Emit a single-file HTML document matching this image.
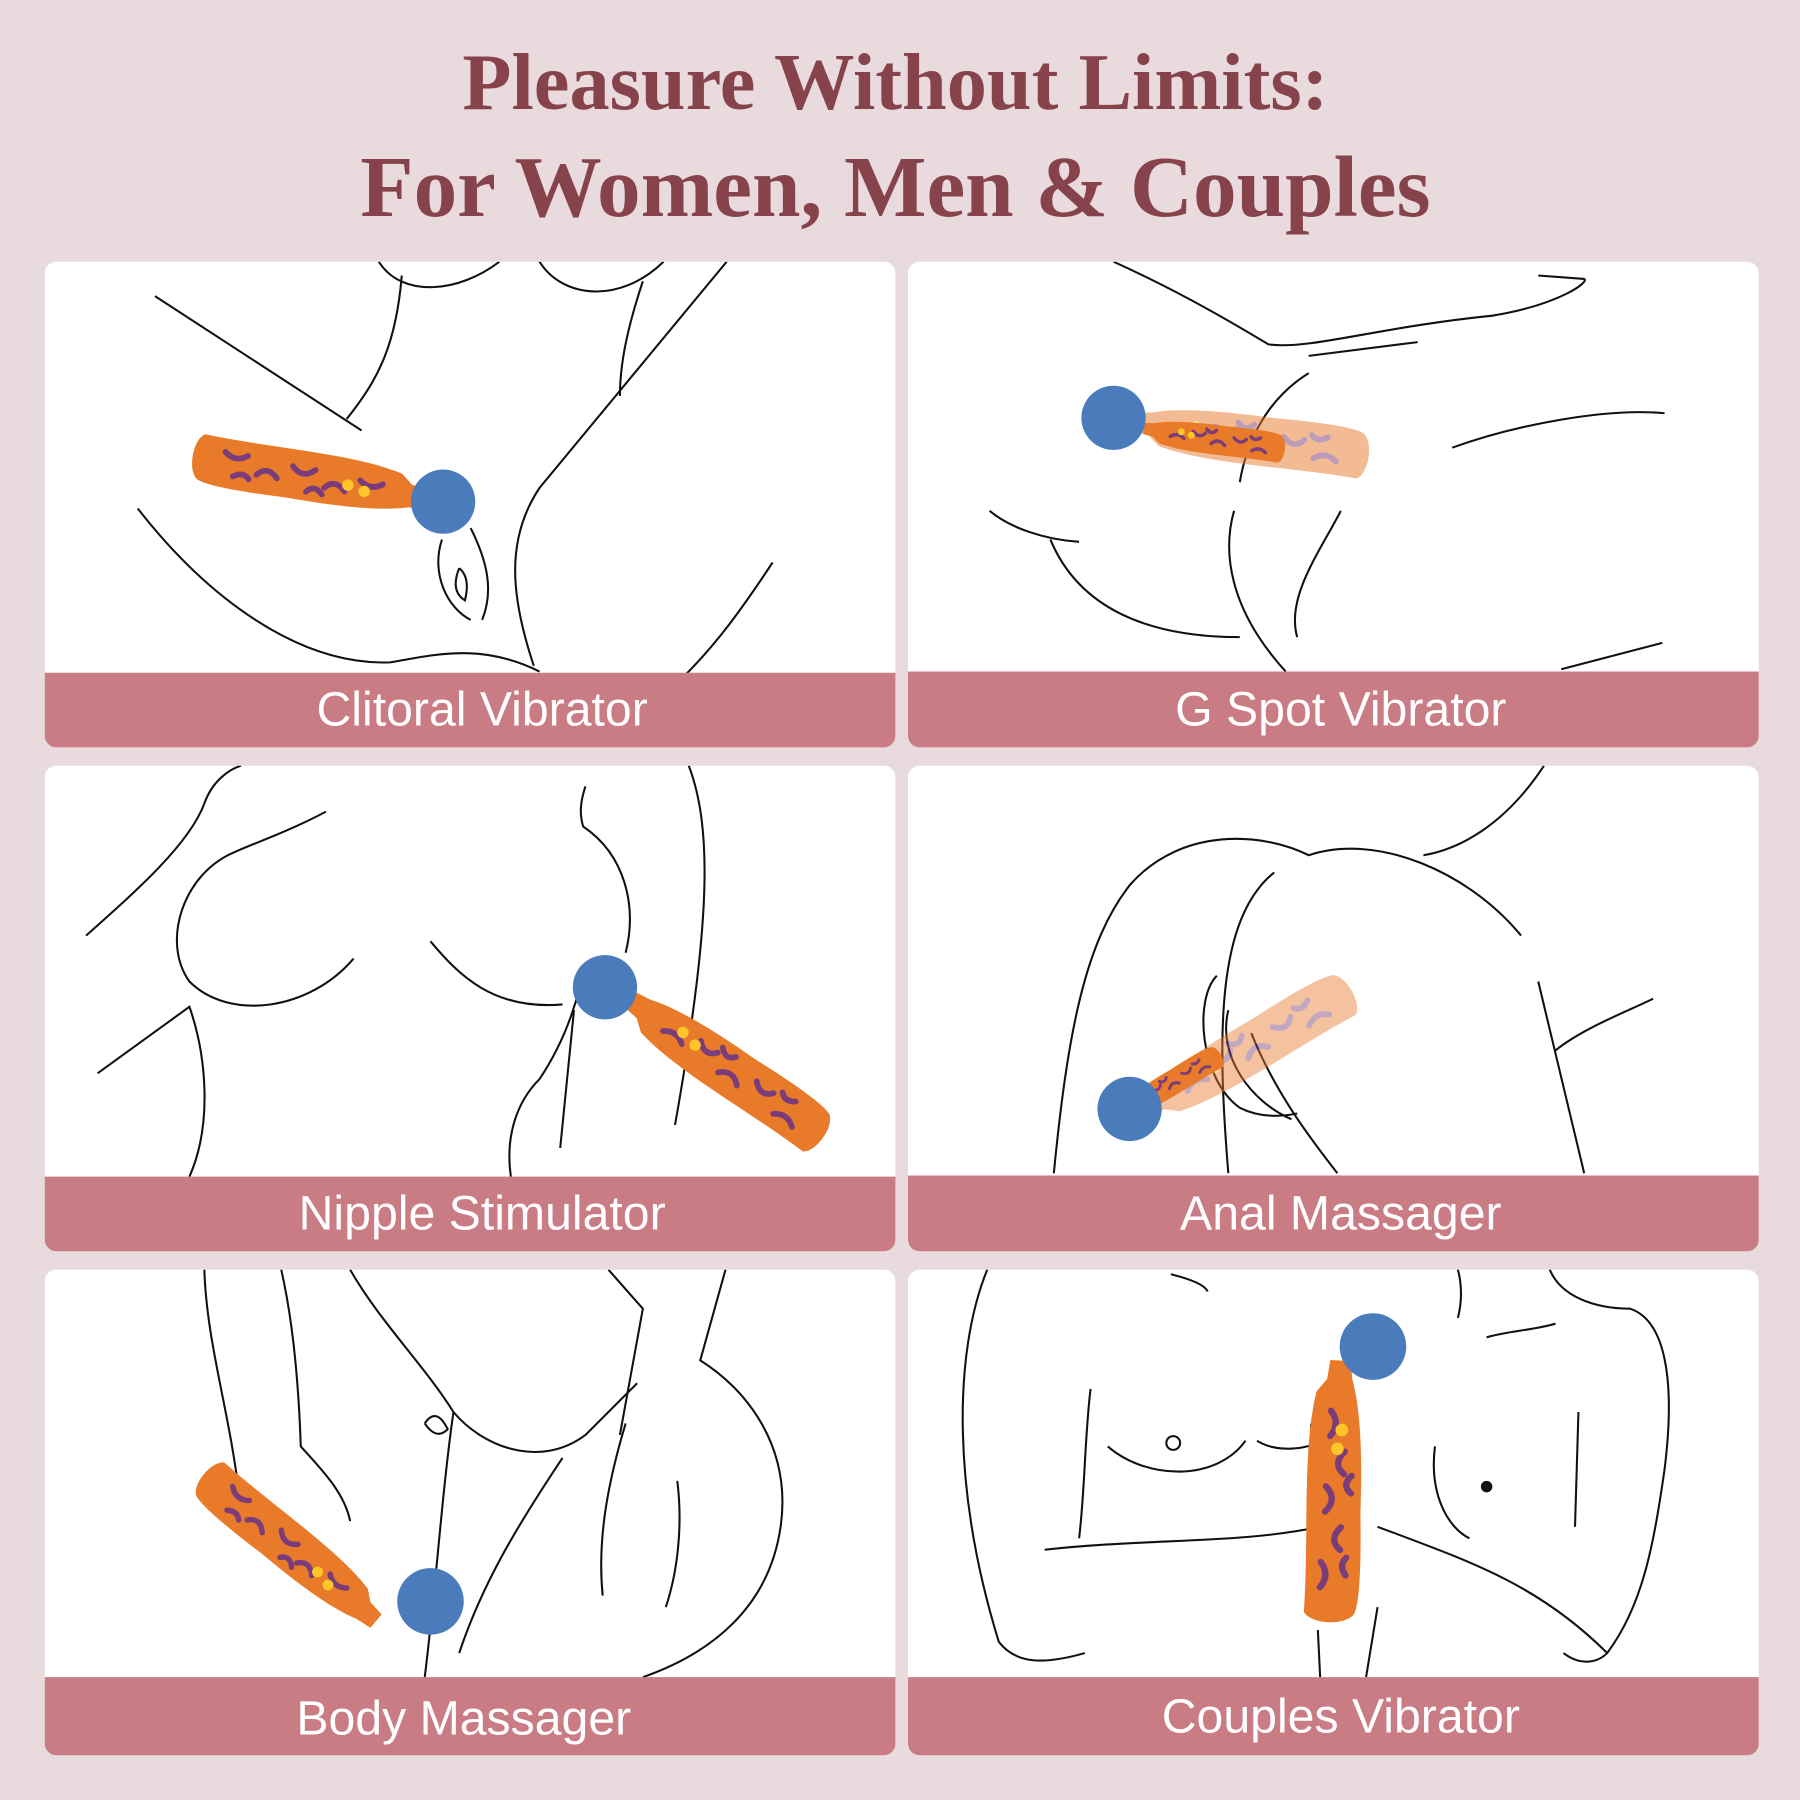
<!DOCTYPE html>
<html><head><meta charset="utf-8"><style>
html,body{margin:0;padding:0;background:#e9dadd;}
svg{display:block}
</style></head><body>
<svg width="1800" height="1800" viewBox="0 0 1568 1568" xmlns="http://www.w3.org/2000/svg">
<defs>
<clipPath id="c1"><rect x="39" y="228" width="741" height="423" rx="10"/></clipPath>
<clipPath id="c2"><rect x="791" y="228" width="741" height="423" rx="10"/></clipPath>
<clipPath id="c3"><rect x="39" y="667" width="741" height="423" rx="10"/></clipPath>
<clipPath id="c4"><rect x="791" y="667" width="741" height="423" rx="10"/></clipPath>
<clipPath id="c5"><rect x="39" y="1106" width="741" height="423" rx="10"/></clipPath>
<clipPath id="c6"><rect x="791" y="1106" width="741" height="423" rx="10"/></clipPath>
<g id="wand">
<path d="M0,-22 C60,-20 130,-28 175,-18 L185,-10 L200,-8 L200,8 L185,10 C160,18 120,20 80,20 C40,22 10,22 0,18 C-10,12 -10,-16 0,-22Z" fill="#e87a2a"/>
<path d="M20,-10 q10,8 20,0 M50,5 q8,-10 18,0 M80,-8 q10,10 20,0 M110,6 q8,-10 18,0 M140,-6 q10,8 20,0 M30,10 q8,-6 14,0 M95,12 q6,-8 14,0" stroke="#7a3d7a" stroke-width="5" fill="none" stroke-linecap="round"/>
<circle cx="130" cy="0" r="5" fill="#ffc629"/><circle cx="145" cy="3" r="5" fill="#ffc629"/>
</g>
</defs>
<rect width="1568" height="1568" fill="#e9dadd"/>
<g font-family="'Liberation Serif',serif" font-weight="bold" fill="#87434b" text-anchor="middle">
<text x="780" y="95" font-size="70">Pleasure Without Limits:</text>
<text x="780" y="188" font-size="76">For Women, Men &amp; Couples</text>
</g>
<g fill="#fff">
<rect x="39" y="228" width="741" height="423" rx="10"/>
<rect x="791" y="228" width="741" height="423" rx="10"/>
<rect x="39" y="667" width="741" height="423" rx="10"/>
<rect x="791" y="667" width="741" height="423" rx="10"/>
<rect x="39" y="1106" width="741" height="423" rx="10"/>
<rect x="791" y="1106" width="741" height="423" rx="10"/>
</g>
<g fill="none" stroke="#111" stroke-width="1.8">
<g clip-path="url(#c1)">
<path d="M135,258 L315,375 M350,240 C345,300 330,330 302,365 M330,228 C350,260 400,255 435,228 M470,228 C490,260 540,265 578,228 M560,245 C545,290 540,320 540,345 M633,228 L470,425 C440,470 445,520 465,580 M120,443 C180,520 260,580 340,577 C380,570 420,560 470,585 M673,490 C640,540 620,565 595,590 M385,470 C375,500 390,530 410,540 M410,460 C425,490 430,515 420,540 M400,495 q-8,20 5,28 q5,-20 -5,-28"/>
</g>
<g clip-path="url(#c2)">
<path d="M970,228 C1030,255 1080,285 1105,300 C1140,305 1200,285 1300,275 C1360,265 1385,245 1380,243 L1340,240 M1140,310 L1235,298 M1265,390 C1320,370 1400,355 1450,360 M862,445 C880,460 910,470 940,472 M915,470 C940,530 1000,555 1080,555 M1075,445 C1065,480 1070,530 1120,585 M1168,445 C1150,480 1120,520 1130,555 M1360,583 L1448,560 M1140,325 C1100,350 1085,390 1080,420"/>
</g>
<g clip-path="url(#c3)">
<path d="M75,815 C120,775 165,735 178,700 C185,680 200,670 210,667 M284,707 C250,725 220,735 205,742 C160,760 140,820 165,855 C200,890 270,880 308,835 M375,820 C400,850 430,880 490,875 M510,685 C505,700 505,710 508,720 C545,745 555,790 545,830 M600,667 C620,720 620,800 588,980 M85,935 L165,877 C180,920 185,980 165,1025 M445,1025 C440,990 450,960 470,940 C490,910 500,880 505,860 M488,1000 L500,880"/>
</g>
<g clip-path="url(#c4)">
<path d="M918,1022 C930,900 945,820 985,770 C1030,720 1100,725 1140,745 C1200,725 1280,760 1325,815 M1070,1022 C1060,900 1060,800 1110,760 M1345,667 C1310,720 1270,740 1240,745 M1340,855 L1380,1022 M1355,915 C1380,895 1420,880 1440,870 M1060,850 C1040,870 1045,940 1080,965 C1100,975 1120,972 1130,970 M1070,880 C1060,920 1090,960 1125,975 M1090,900 C1110,950 1140,990 1165,1022"/>
</g>
<g clip-path="url(#c5)">
<path d="M178,1106 C180,1170 200,1230 208,1300 M245,1106 C255,1150 260,1200 262,1260 C280,1280 300,1300 305,1325 M305,1106 C330,1150 370,1190 395,1230 C420,1260 470,1280 510,1250 L555,1205 M530,1106 L560,1140 L540,1250 M632,1106 L610,1185 C650,1210 690,1260 680,1330 C670,1400 620,1440 560,1461 M395,1230 C385,1300 380,1380 370,1461 M490,1270 C450,1330 420,1380 400,1440 M545,1240 C530,1290 520,1340 525,1390 M590,1290 C595,1330 590,1370 580,1400 M370,1240 q10,-15 20,5 q-10,10 -20,-5 M205,1300 C215,1330 230,1350 250,1360"/>
</g>
<g clip-path="url(#c6)">
<path d="M860,1106 C830,1180 830,1300 870,1430 C885,1450 910,1450 945,1440 M1020,1110 C1040,1115 1050,1120 1052,1125 M1270,1106 C1275,1125 1272,1140 1270,1148 M1350,1106 C1360,1130 1390,1140 1420,1140 C1450,1150 1460,1200 1450,1280 C1440,1350 1430,1400 1400,1440 C1390,1450 1375,1450 1362,1440 M950,1210 C945,1250 945,1300 940,1340 M965,1260 C1000,1290 1060,1290 1085,1255 M1095,1255 C1110,1265 1140,1265 1160,1250 M1295,1165 C1310,1160 1340,1158 1355,1153 M910,1350 C1000,1340 1080,1345 1150,1330 M1200,1330 C1280,1360 1340,1380 1400,1440 M1250,1260 C1245,1300 1260,1330 1280,1340 M1150,1260 C1140,1300 1150,1340 1165,1350 M1150,1461 L1148,1420 M1190,1461 L1200,1400 M1375,1230 L1372,1330"/>
<circle cx="1022" cy="1257" r="6"/><circle cx="1145" cy="1242" r="3"/>
</g>
</g>
<circle cx="1295" cy="1295" r="5" fill="#111"/>
<!-- wands -->
<use href="#wand" transform="translate(175,400) rotate(10)"/>
<circle cx="386" cy="437" r="28" fill="#4a7cbc"/>
<use href="#wand" transform="translate(1185,395) rotate(-172)" opacity="0.5"/>
<use href="#wand" transform="translate(1115,390) rotate(-172) scale(0.6)"/>
<circle cx="970" cy="364" r="28" fill="#4a7cbc"/>
<use href="#wand" transform="translate(712,985) rotate(-145)"/>
<circle cx="527" cy="860" r="28" fill="#4a7cbc"/>
<use href="#wand" transform="translate(1170,865) rotate(150)" opacity="0.45"/>
<use href="#wand" transform="translate(1060,920) rotate(150) scale(0.5)"/>
<circle cx="984" cy="966" r="28" fill="#4a7cbc"/>
<use href="#wand" transform="translate(182,1290) rotate(40) scale(0.95)"/>
<circle cx="375" cy="1395" r="29" fill="#4a7cbc"/>
<use href="#wand" transform="translate(1160,1405) rotate(-88) scale(1.1)"/>
<circle cx="1196" cy="1173" r="29" fill="#4a7cbc"/>
<!-- label bars -->
<g fill="#c97c84">
<path d="M39,586 H780 V641 a10,10 0 0 1 -10,10 H49 a10,10 0 0 1 -10,-10Z"/>
<path d="M791,585 H1532 V641 a10,10 0 0 1 -10,10 H801 a10,10 0 0 1 -10,-10Z"/>
<path d="M39,1025 H780 V1080 a10,10 0 0 1 -10,10 H49 a10,10 0 0 1 -10,-10Z"/>
<path d="M791,1024 H1532 V1080 a10,10 0 0 1 -10,10 H801 a10,10 0 0 1 -10,-10Z"/>
<path d="M39,1461 H780 V1519 a10,10 0 0 1 -10,10 H49 a10,10 0 0 1 -10,-10Z"/>
<path d="M791,1461 H1532 V1519 a10,10 0 0 1 -10,10 H801 a10,10 0 0 1 -10,-10Z"/>
</g>
<g font-family="'Liberation Sans',sans-serif" font-size="42" fill="#fff" text-anchor="middle">
<text x="420" y="632">Clitoral Vibrator</text>
<text x="1168" y="632">G Spot Vibrator</text>
<text x="420" y="1071">Nipple Stimulator</text>
<text x="1168" y="1071">Anal Massager</text>
<text x="404" y="1511">Body Massager</text>
<text x="1168" y="1509">Couples Vibrator</text>
</g>
</svg>
</body></html>
